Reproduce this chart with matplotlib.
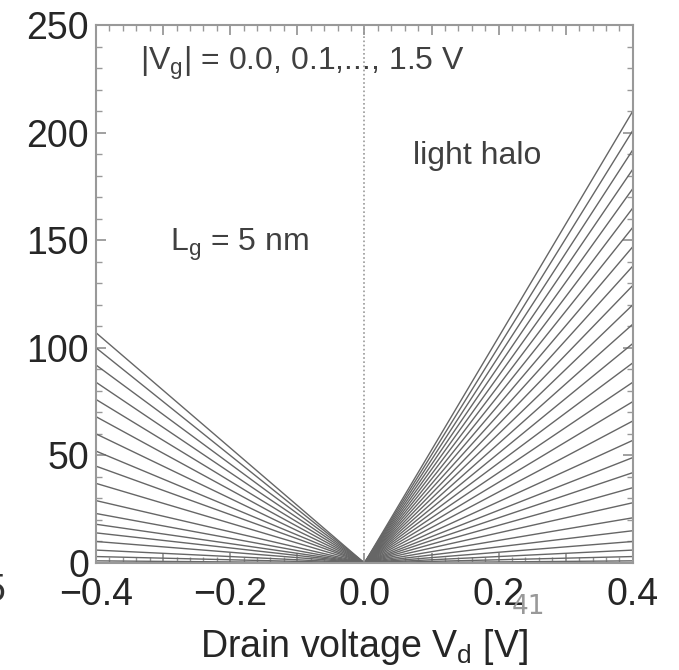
import matplotlib.pyplot as plt
import numpy as np
from matplotlib.ticker import MultipleLocator, FuncFormatter

plt.rcParams['font.family'] = ['Liberation Sans', 'DejaVu Sans']

# drain current at the end of each sweep (Vd = -0.4 V and Vd = +0.4 V), from origin
vd_neg = [0.0, -0.4]
vd_pos = [0.0, 0.4]
id_neg_end = [107, 100, 92, 84, 76, 68, 60, 52, 45, 37, 29, 23, 18, 14, 10, 6, 3, 1]
id_pos_end = [210, 201, 192, 183, 174, 165, 156, 147, 138, 129, 120, 111, 102, 93,
              84, 75, 66, 57, 49, 42, 35, 28, 21, 15, 10, 6, 3, 1]

fig = plt.figure(figsize=(6.79, 6.70), dpi=100)
ax = fig.add_axes([0.1414, 0.1597, 0.7906, 0.803])

for val in id_neg_end:
    ax.plot(vd_neg, [0, val], color='0.4', lw=1.0)
for val in id_pos_end:
    ax.plot(vd_pos, [0, val], color='0.4', lw=1.0)

ax.axvline(0.0, color='0.6', lw=1.2, ls=(0, (1, 1.5)))

ax.set_xlim(-0.4, 0.4)
ax.set_ylim(0, 250)

ax.xaxis.set_major_locator(MultipleLocator(0.1))
ax.xaxis.set_minor_locator(MultipleLocator(0.02))
ax.xaxis.set_major_formatter(FuncFormatter(
    lambda v, p: ('%.1f' % v).replace('-', '\u2212') if round(v * 10) % 2 == 0 else ''))
ax.yaxis.set_major_locator(MultipleLocator(50))
ax.yaxis.set_minor_locator(MultipleLocator(10))

ax.tick_params(which='both', direction='in', top=True, right=True, color='0.6',
               labelsize=27, labelcolor='0.15')
ax.tick_params(which='major', length=7, width=1.3)
ax.tick_params(which='minor', length=4, width=1.0)
ax.tick_params(axis='x', pad=10)
ax.tick_params(axis='y', pad=5)
for s in ax.spines.values():
    s.set_color('0.6')
    s.set_linewidth(1.5)

ax.set_xlabel(r'Drain voltage V$_\mathregular{d}$ [V]', fontsize=27, color='0.15', labelpad=10)

ax.text(-0.334, 232, r'|V$_\mathregular{g}$| = 0.0, 0.1,..., 1.5 V', fontsize=23,
        color='0.25', va='center')
ax.text(0.072, 189, 'light halo', fontsize=23, color='0.25', va='center')
ax.text(-0.289, 148, r'L$_\mathregular{g}$ = 5 nm', fontsize=23, color='0.25', va='center')

fig.text(0.778, 0.094, '41', fontsize=19, color='0.6', ha='center', va='center',
         family='DejaVu Sans')
fig.text(-0.008, 0.118, '5', fontsize=27, color='0.2', ha='center', va='center')

fig.savefig('out.png', dpi=100)
